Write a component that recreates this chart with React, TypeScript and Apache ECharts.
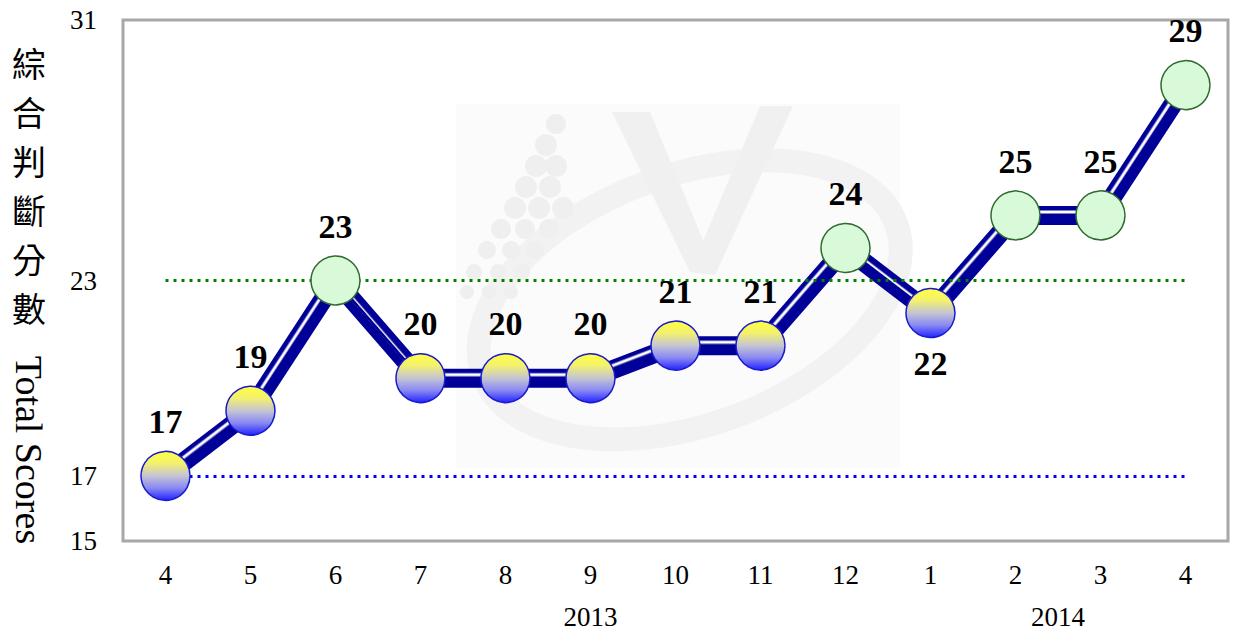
import React, { useEffect, useRef } from "react";
import * as echarts from "echarts";

const months = ["4", "5", "6", "7", "8", "9", "10", "11", "12", "1", "2", "3", "4"];
const scores = [17, 19, 23, 20, 20, 20, 21, 21, 24, 22, 25, 25, 29];
const labelBelowIdx = [9];
const yTickValues = [15, 17, 23, 31];
const upperRef = 23;
const lowerRef = 17;
const years = [
  { text: "2013", at: 5 },
  { text: "2014", at: 10.5 },
];
const titleZh = ["綜", "合", "判", "斷", "分", "數"];
const titleEn = "Total Scores";

const SERIF = "'Liberation Serif', 'Times New Roman', serif";

export default function App() {
  const ref = useRef<HTMLDivElement>(null);

  useEffect(() => {
    const chart = echarts.init(ref.current!, null, { renderer: "svg" });

    const lowStyle = {
      color: new echarts.graphic.LinearGradient(0, 0, 0, 1, [
        { offset: 0, color: "#ffff40" },
        { offset: 0.25, color: "#f2f070" },
        { offset: 0.5, color: "#c4c4d4" },
        { offset: 0.75, color: "#8888f4" },
        { offset: 1, color: "#2222ff" },
      ]),
      borderColor: "#1a1acc",
      borderWidth: 1.5,
      opacity: 1,
    };
    const highStyle = {
      color: "#d8fad8",
      borderColor: "#2f6a2f",
      borderWidth: 1.5,
      opacity: 1,
    };

    const scatterData = scores.map((v, i) => ({
      value: v,
      itemStyle: v >= upperRef ? highStyle : lowStyle,
      label: labelBelowIdx.includes(i)
        ? { position: "bottom", distance: 8 }
        : { position: "top", distance: 12 },
    }));

    // watermark (decorative)
    const dots: any[] = [];
    const dotRows = [
      { y: 292, xs: [467, 489, 511], r: 7 },
      { y: 272, xs: [474, 498, 522], r: 8 },
      { y: 250, xs: [487, 511, 535], r: 9 },
      { y: 229, xs: [501, 525, 549], r: 10 },
      { y: 208, xs: [515, 539, 563], r: 11 },
      { y: 187, xs: [526, 550], r: 11 },
      { y: 166, xs: [536, 556], r: 11 },
      { y: 145, xs: [546], r: 11 },
      { y: 124, xs: [556], r: 10 },
    ];
    dotRows.forEach((row) =>
      row.xs.forEach((x) =>
        dots.push({
          type: "circle",
          shape: { cx: x, cy: row.y, r: row.r },
          style: { fill: "#efefef" },
          z: 1,
          silent: true,
        })
      )
    );

    const watermark: any[] = [
      {
        type: "rect",
        shape: { x: 456, y: 104, width: 444, height: 364 },
        style: { fill: "#fbfbfb" },
        z: 0,
        silent: true,
      },
      {
        type: "ellipse",
        shape: { cx: 690, cy: 300, rx: 220, ry: 125 },
        rotation: 0.35,
        originX: 690,
        originY: 300,
        style: { fill: "none", stroke: "#f2f2f2", lineWidth: 24 },
        z: 1,
        silent: true,
      },
      {
        type: "polygon",
        shape: {
          points: [
            [612, 112],
            [650, 112],
            [712, 262],
            [690, 272],
          ],
        },
        style: { fill: "#f0f0f0" },
        z: 1,
        silent: true,
      },
      {
        type: "polygon",
        shape: {
          points: [
            [760, 106],
            [793, 106],
            [715, 275],
            [690, 272],
          ],
        },
        style: { fill: "#f0f0f0" },
        z: 1,
        silent: true,
      },
      ...dots,
    ];

    const titleGraphics: any[] = [
      {
        type: "text",
        left: 12,
        top: 38,
        style: {
          text: titleZh.join("\n"),
          font: "34px 'Noto Sans CJK TC', sans-serif",
          lineHeight: 49,
          fill: "#000",
        },
      },
      {
        type: "text",
        x: 10,
        y: 450,
        rotation: -Math.PI / 2,
        originX: 0,
        originY: 0,
        style: {
          text: titleEn,
          font: `38px ${SERIF}`,
          fill: "#000",
          align: "center",
          verticalAlign: "bottom",
        },
      },
    ];

    const option: any = {
      animation: false,
      grid: {
        left: 123,
        right: 5,
        top: 20,
        bottom: 94,
        show: true,
        borderColor: "#a8a8a8",
        borderWidth: 3,
        backgroundColor: "transparent",
      },
      xAxis: {
        type: "category",
        data: months,
        boundaryGap: true,
        axisLine: { show: false },
        axisTick: { show: false },
        axisLabel: {
          fontFamily: SERIF,
          fontSize: 27,
          color: "#000",
          margin: 20,
        },
        splitLine: { show: false },
      },
      yAxis: {
        type: "value",
        min: 15,
        max: 31,
        axisLine: { show: false },
        axisTick: { show: false },
        splitLine: { show: false },
        axisLabel: {
          customValues: yTickValues,
          fontFamily: SERIF,
          fontSize: 27,
          color: "#000",
          margin: 26,
        },
      },
      graphic: [...watermark, ...titleGraphics],
      series: [
        {
          type: "line",
          data: scores,
          symbol: "none",
          lineStyle: { color: "#000099", width: 19 },
          z: 3,
          markLine: {
            silent: true,
            symbol: "none",
            label: { show: false },
            data: [
              [
                { coord: [0, upperRef], lineStyle: { color: "#008000", type: [3, 5], width: 3 } },
                { coord: [months.length - 1, upperRef] },
              ],
              [
                { coord: [0, lowerRef], lineStyle: { color: "#0000ff", type: [3, 5], width: 3 } },
                { coord: [months.length - 1, lowerRef] },
              ],
            ],
          },
        },
        {
          type: "line",
          data: scores,
          symbol: "none",
          lineStyle: {
            color: "#000099",
            width: 3,
            shadowColor: "#ffffff",
            shadowBlur: 0,
            shadowOffsetX: -1.5,
            shadowOffsetY: -3.5,
          },
          z: 4,
        },
        {
          type: "scatter",
          data: scatterData,
          symbolSize: 49,
          z: 5,
          itemStyle: { opacity: 1 },
          label: {
            show: true,
            fontFamily: SERIF,
            fontWeight: "bold",
            fontSize: 34,
            color: "#000",
          },
        },
      ],
    };

    chart.setOption(option);

    const yearY = 617;
    const yearGraphics = years.map((yr) => {
      const i0 = Math.floor(yr.at);
      const frac = yr.at - i0;
      const p0 = chart.convertToPixel({ xAxisIndex: 0 }, i0) as number;
      const p1 =
        frac > 0 ? (chart.convertToPixel({ xAxisIndex: 0 }, i0 + 1) as number) : p0;
      const x = p0 + (p1 - p0) * frac;
      return {
        type: "text",
        x,
        y: yearY,
        style: {
          text: yr.text,
          font: `27px ${SERIF}`,
          fill: "#000",
          align: "center",
          verticalAlign: "middle",
        },
      };
    });
    chart.setOption({ graphic: [...watermark, ...titleGraphics, ...yearGraphics] });

    return () => chart.dispose();
  }, []);

  return (
    <div
      ref={ref}
      style={{ position: "absolute", left: 0, top: 0, width: 1233, height: 635 }}
    />
  );
}
